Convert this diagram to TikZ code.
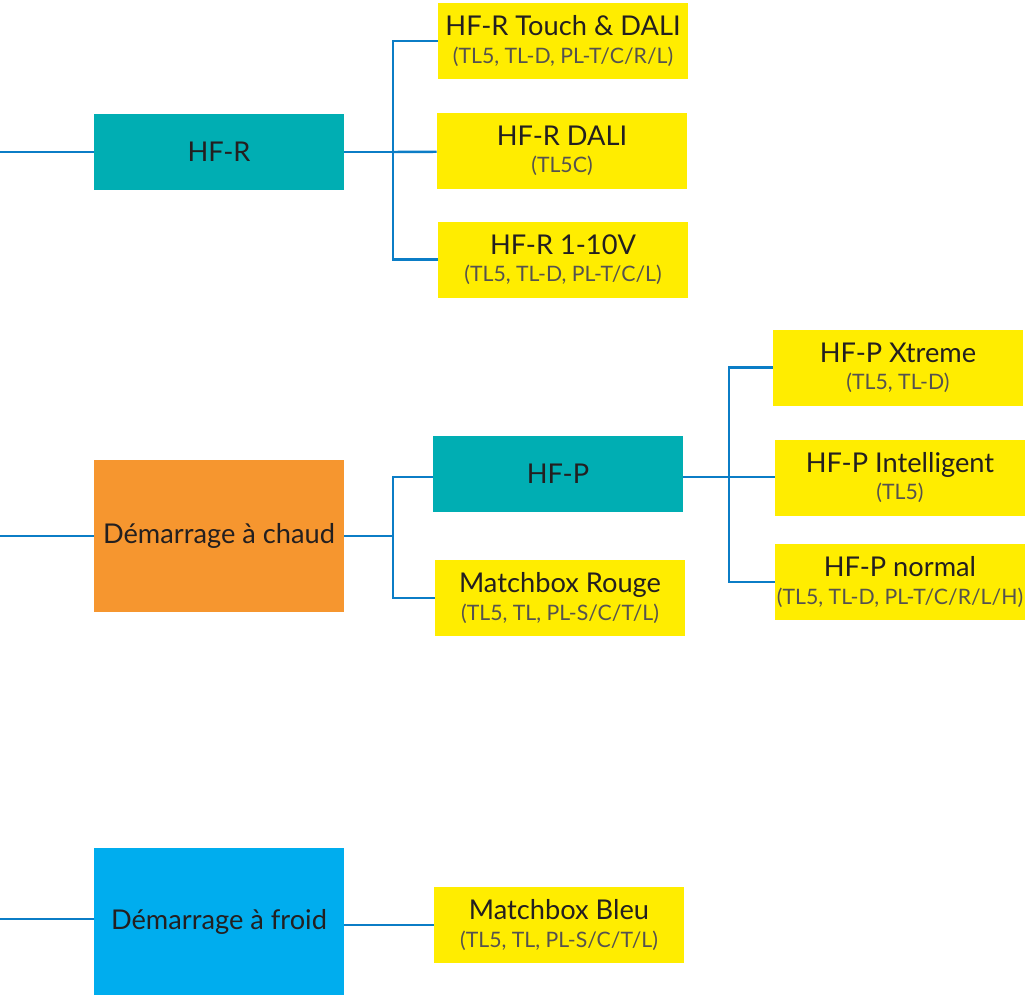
\documentclass[tikz,border=0pt]{standalone}
\usepackage{fontspec}
\setmainfont{Lato}
\usetikzlibrary{positioning}
\definecolor{linkblue}{HTML}{0B7DC6}
\definecolor{teal}{HTML}{00AEB3}
\definecolor{warm}{HTML}{F6962F}
\definecolor{cold}{HTML}{00ADEE}
\definecolor{lamp}{HTML}{FFED00}
\definecolor{ink}{HTML}{231F20}
\definecolor{subink}{HTML}{55524F}
\newcommand{\lampbox}[2]{{\fontsize{15.5}{17}\selectfont #1}\\[-1.5pt]{\fontsize{12.1}{14}\selectfont\color{subink}#2}}
\tikzset{
  base/.style={minimum width=5cm, minimum height=1.52cm, inner sep=0pt, align=center, text=ink, font=\fontsize{15.5}{17}\selectfont},
  family/.style={base, fill=teal},
  start/.style={base, fill=#1},
  lampnode/.style={base, fill=lamp},
  link/.style={draw=linkblue, line width=1.4pt}
}
\begin{document}
\begin{tikzpicture}[x=0.02cm, y=-0.02cm]
\useasboundingbox (0,0) rectangle (1032,995);
\node[family] (hfr) at (219,152) {HF-R};
\node[lampnode] (touch) at (563,41) {\lampbox{HF-R Touch \& DALI}{(TL5, TL-D, PL-T/C/R/L)}};
\node[lampnode] (dali) at (562,151) {\lampbox{HF-R DALI}{(TL5C)}};
\node[lampnode] (volt) at (563,259.5) {\lampbox{HF-R 1-10V}{(TL5, TL-D, PL-T/C/L)}};
\node[start=warm, minimum height=3.04cm] (chaud) at (219,536) {Démarrage à chaud};
\node[family] (hfp) at (558,474) {HF-P};
\node[lampnode] (rouge) at (560,598) {\lampbox{Matchbox Rouge}{(TL5, TL, PL-S/C/T/L)}};
\node[lampnode] (xtreme) at (898,367.5) {\lampbox{HF-P Xtreme}{(TL5, TL-D)}};
\node[lampnode] (intel) at (900,477.5) {\lampbox{HF-P Intelligent}{(TL5)}};
\node[lampnode] (normal) at (900,582) {\lampbox{HF-P normal}{(TL5, TL-D, PL-T/C/R/L/H)}};
\node[start=cold, minimum height=2.94cm] (froid) at (219,921.5) {Démarrage à froid};
\node[lampnode] (bleu) at (559,925) {\lampbox{Matchbox Bleu}{(TL5, TL, PL-S/C/T/L)}};
\coordinate (inr) at (0,152);
\coordinate (inc) at (0,536);
\coordinate (inf) at (0,919);
\coordinate (jr) at (393,152);
\coordinate (jc) at (393,536);
\coordinate (jp) at (729,477);
\draw[link] (inr) -- (hfr);
\draw[link] (inc) -- (chaud);
\draw[link] (inf) -- (froid.west |- inf);
\draw[link] (hfr) -- (jr);
\draw[link] (jr) |- (touch);
\draw[link] (jr) |- (volt);
\draw[link] (jr) -- (dali);
\draw[link] (chaud) -- (jc);
\draw[link] (jc) |- (hfp.west |- 0,477);
\draw[link] (jc) |- (rouge);
\draw[link] (hfp.east |- jp) -- (jp);
\draw[link] (jp) |- (xtreme);
\draw[link] (jp) |- (normal);
\draw[link] (jp) -- (intel.west |- jp);
\draw[link] (froid.east |- bleu) -- (bleu);
\end{tikzpicture}
\end{document}
